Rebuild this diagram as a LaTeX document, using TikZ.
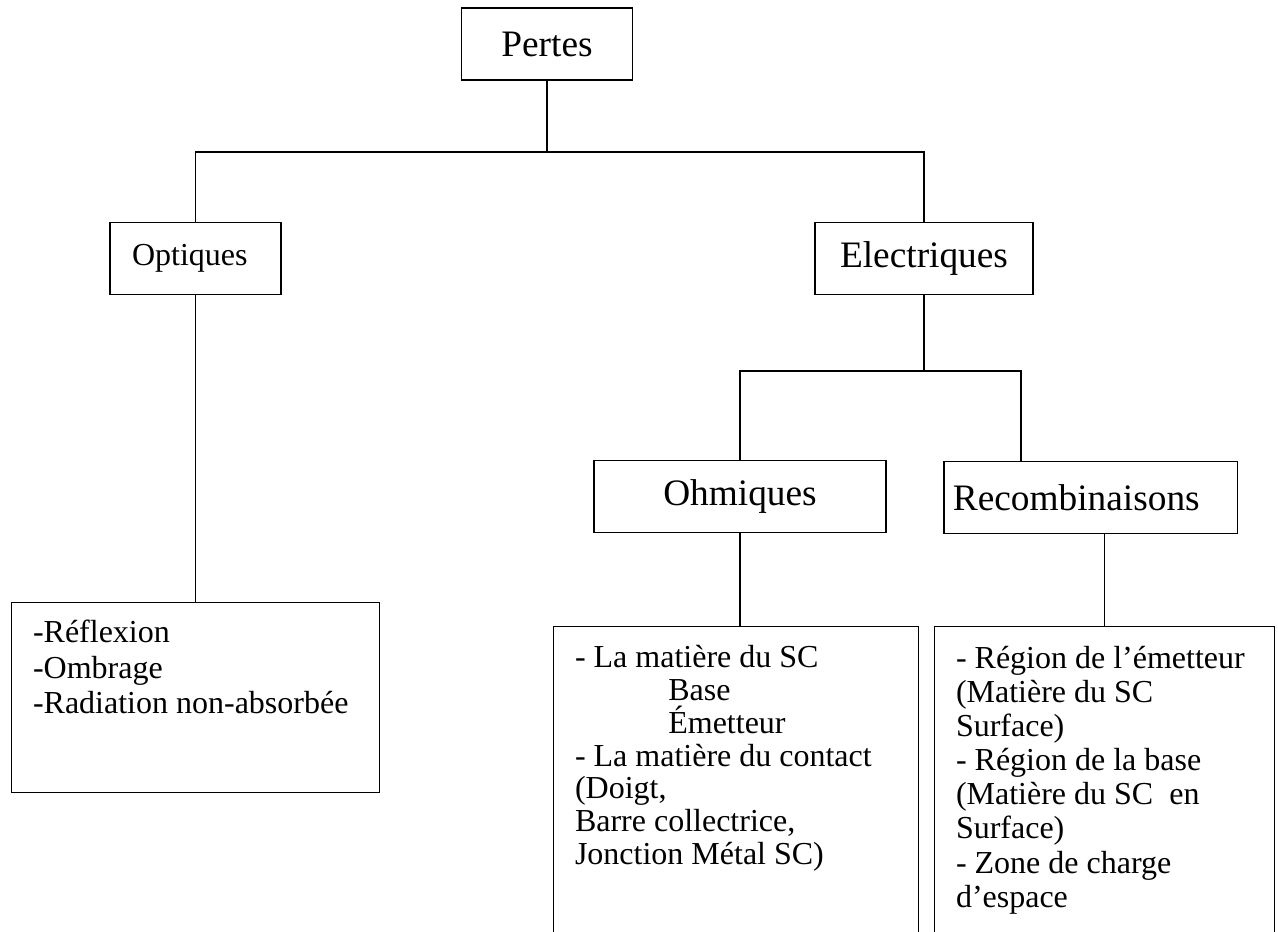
\documentclass[tikz,border=0pt]{standalone}
\usepackage{fontspec}
\setmainfont{Liberation Serif}
\usetikzlibrary{positioning}

\begin{document}
\begin{tikzpicture}[
        x=0.375pt, y=-0.375pt,
        box/.style={rectangle,draw,line width=0.5pt,inner sep=0pt,minimum height=27pt,font=\fontsize{14}{16}\selectfont},
        liste/.style={rectangle,draw,line width=0.5pt,anchor=north west,inner xsep=8pt,inner ysep=0pt},
        trait/.style={line width=0.5pt}
    ]
        \clip (0,0) rectangle (1278,932);

        \node[box, minimum width=64.1pt] (pertes) at (547,44) {Pertes};
        \node[box, inner xsep=8.25pt, text width=47.6pt, align=left, font=\fontsize{12}{14}\selectfont] (optiques) at (195.5,258.5) {Optiques};
        \node[box, minimum width=81.75pt] (electriques) at (924,258.5) {Electriques};
        \node[box, minimum width=109.5pt] (ohmiques) at (740,496.5) {Ohmiques};
        \node[box, inner xsep=3.4pt, text width=103.2pt, align=left] (recomb) at (1090.5,497.5) {Recombinaisons};

        \node[liste, font=\fontsize{12}{13.3}\selectfont] (listeOptiques) at (11,602) {\parbox[t][71.25pt][t]{122pt}{\rule{0pt}{15pt}-Réflexion\\-Ombrage\\-Radiation non-absorbée}};
        \node[liste, font=\fontsize{12}{12.3}\selectfont] (listeOhmiques) at (553,626) {\parbox[t][130pt][t]{120.9pt}{\rule{0pt}{15.4pt}- La matière du SC\\\hspace*{35pt}Base\\\hspace*{35pt}Émetteur\\- La matière du contact\\(Doigt,\\Barre collectrice,\\Jonction Métal SC)}};
        \node[liste, font=\fontsize{12}{12.8}\selectfont] (listeRecomb) at (934,626) {\parbox[t][130pt][t]{111.5pt}{\rule{0pt}{15.6pt}- Région de l’émetteur\\(Matière du SC\\Surface)\\- Région de la base\\(Matière du SC~ en\\Surface)\\- Zone de charge\\d’espace}};

        \coordinate (noeud1) at (547,152);
        \coordinate (noeud2) at (924,371);
        \coordinate (noeud3) at (1021,371);

        \draw[trait] (pertes.south) -- (noeud1);
        \draw[trait] (optiques.north) |- (noeud1) -| (electriques.north);
        \draw[trait] (optiques.south) -- (optiques.south |- listeOptiques.north);

        \draw[trait] (electriques.south) -- (noeud2);
        \draw[trait] (ohmiques.north) |- (noeud3) -- (noeud3 |- recomb.north);
        \draw[trait] (ohmiques.south) -- (ohmiques.south |- listeOhmiques.north);
        \draw[trait] (listeRecomb.north) -- (listeRecomb.north |- recomb.south);
    \end{tikzpicture}
\end{document}
